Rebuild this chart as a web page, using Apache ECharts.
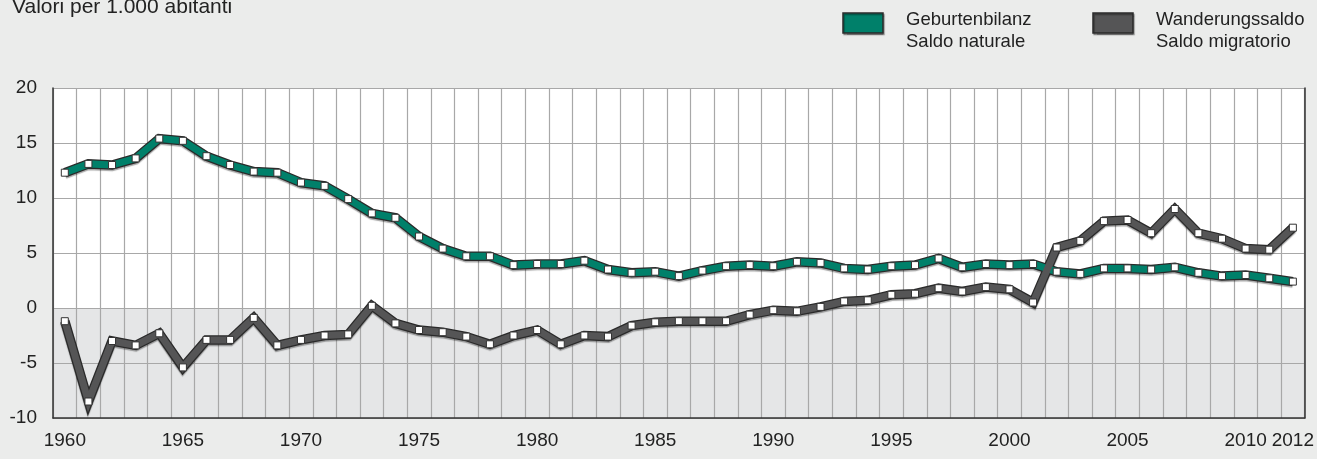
<!DOCTYPE html>
<html>
<head>
<meta charset="utf-8">
<script src="https://cdn.jsdelivr.net/npm/echarts@6/dist/echarts.min.js"></script>
<style>
html,body{margin:0;padding:0;background:#ebeceb;}
#c{width:1317px;height:459px;}
</style>
</head>
<body>
<div id="c"></div>
<script>
const years = ["1960","1961","1962","1963","1964","1965","1966","1967","1968","1969","1970","1971","1972","1973","1974","1975","1976","1977","1978","1979","1980","1981","1982","1983","1984","1985","1986","1987","1988","1989","1990","1991","1992","1993","1994","1995","1996","1997","1998","1999","2000","2001","2002","2003","2004","2005","2006","2007","2008","2009","2010","2011","2012"];
const saldoNaturale = [12.3,13.1,13.0,13.6,15.4,15.2,13.8,13.0,12.4,12.3,11.4,11.1,9.9,8.6,8.2,6.5,5.4,4.7,4.7,3.9,4.0,4.0,4.3,3.5,3.2,3.3,2.9,3.4,3.8,3.9,3.8,4.2,4.1,3.6,3.5,3.8,3.9,4.5,3.7,4.0,3.9,4.0,3.3,3.1,3.6,3.6,3.5,3.7,3.2,2.9,3.0,2.7,2.4];
const saldoMigratorio = [-1.2,-8.5,-3.0,-3.4,-2.3,-5.4,-2.9,-2.9,-0.9,-3.4,-2.9,-2.5,-2.4,0.2,-1.4,-2.0,-2.2,-2.6,-3.3,-2.5,-2.0,-3.3,-2.5,-2.6,-1.6,-1.3,-1.2,-1.2,-1.2,-0.6,-0.2,-0.3,0.1,0.6,0.7,1.2,1.3,1.8,1.5,1.9,1.7,0.5,5.5,6.1,7.9,8.0,6.8,9.0,6.8,6.3,5.4,5.3,7.3];
const xTickLabels = ["1960","1965","1970","1975","1980","1985","1990","1995","2000","2005","2010","2012"];
const legendNatLines = ["Geburtenbilanz", "Saldo naturale"];
const legendMigLines = ["Wanderungssaldo", "Saldo migratorio"];
const titleText = "Valori per 1.000 abitanti";

const FONT = "'Liberation Sans', Arial, sans-serif";
const GREEN = "#00806a";
const GREY = "#555556";
const OUTLINE = "#2a2a2a";

function ribbon(name, data, color) {
  return [
    {
      name: name + "_outline", type: "line", data: data, symbol: "none", silent: true,
      lineStyle: {color: OUTLINE, width: 9.5, join: "miter", cap: "butt",
        shadowColor: "rgba(0,0,0,0.35)", shadowOffsetY: 1.5, shadowBlur: 1},
      emphasis: {disabled: true}, z: 3
    },
    {
      name: name, type: "line", data: data, symbol: "rect", symbolSize: 7,
      itemStyle: {color: "#ffffff", borderColor: "#333333", borderWidth: 1},
      lineStyle: {color: color, width: 7, join: "miter", cap: "butt"},
      emphasis: {disabled: true}, z: 4
    }
  ];
}

function legendEntry(x, color, lines) {
  return {
    type: "group", x: x, y: 13,
    children: [
      {type: "rect", shape: {x: 0, y: 0, width: 40, height: 20},
        style: {fill: color, stroke: OUTLINE, lineWidth: 1.5,
          shadowColor: "rgba(0,0,0,0.35)", shadowOffsetX: 1, shadowOffsetY: 1.5, shadowBlur: 1}},
      {type: "text", x: 63, y: 7, style: {text: lines[0], font: "18.5px " + FONT, fill: "#222", verticalAlign: "middle"}},
      {type: "text", x: 63, y: 29, style: {text: lines[1], font: "18.5px " + FONT, fill: "#222", verticalAlign: "middle"}}
    ]
  };
}

const chart = echarts.init(document.getElementById("c"), null, {renderer: "canvas"});
chart.setOption({
  backgroundColor: "#ebeceb",
  animation: false,
  textStyle: {fontFamily: FONT},
  graphic: [
    {type: "text", x: 12, y: 7, style: {text: titleText, font: "21px " + FONT, fill: "#222", verticalAlign: "middle"}},
    legendEntry(843, GREEN, legendNatLines),
    legendEntry(1093, GREY, legendMigLines)
  ],
  grid: {left: 53, right: 12, top: 88, bottom: 41, containLabel: false},
  xAxis: {
    type: "category", data: years, boundaryGap: true,
    axisTick: {show: false},
    axisLine: {show: true, onZero: false, lineStyle: {color: "#333", width: 1.5}},
    splitLine: {show: true, interval: 0, lineStyle: {color: "#a8a8a8", width: 1.2}},
    axisLabel: {
      interval: (i, v) => xTickLabels.indexOf(v) >= 0,
      fontSize: 19, color: "#222", margin: 13, fontFamily: FONT
    }
  },
  yAxis: [
    {
      type: "value", min: -10, max: 20, interval: 5,
      axisLine: {show: true, onZero: false, lineStyle: {color: "#333", width: 1.5}},
      axisTick: {show: false},
      splitLine: {show: true, lineStyle: {color: "#a8a8a8", width: 1.2}},
      splitArea: {show: true, areaStyle: {color: ["#e5e6e7", "#e5e6e7", "#ffffff", "#ffffff", "#ffffff", "#ffffff"]}},
      axisLabel: {fontSize: 19, color: "#222", margin: 16, fontFamily: FONT}
    },
    {
      type: "value", min: -10, max: 20, interval: 5, position: "right",
      axisLine: {show: true, onZero: false, lineStyle: {color: "#333", width: 1.5}},
      axisTick: {show: false}, axisLabel: {show: false}, splitLine: {show: false}
    }
  ],
  series: [].concat(
    ribbon("Geburtenbilanz", saldoNaturale, GREEN),
    ribbon("Wanderungssaldo", saldoMigratorio, GREY)
  )
});
</script>
</body>
</html>
